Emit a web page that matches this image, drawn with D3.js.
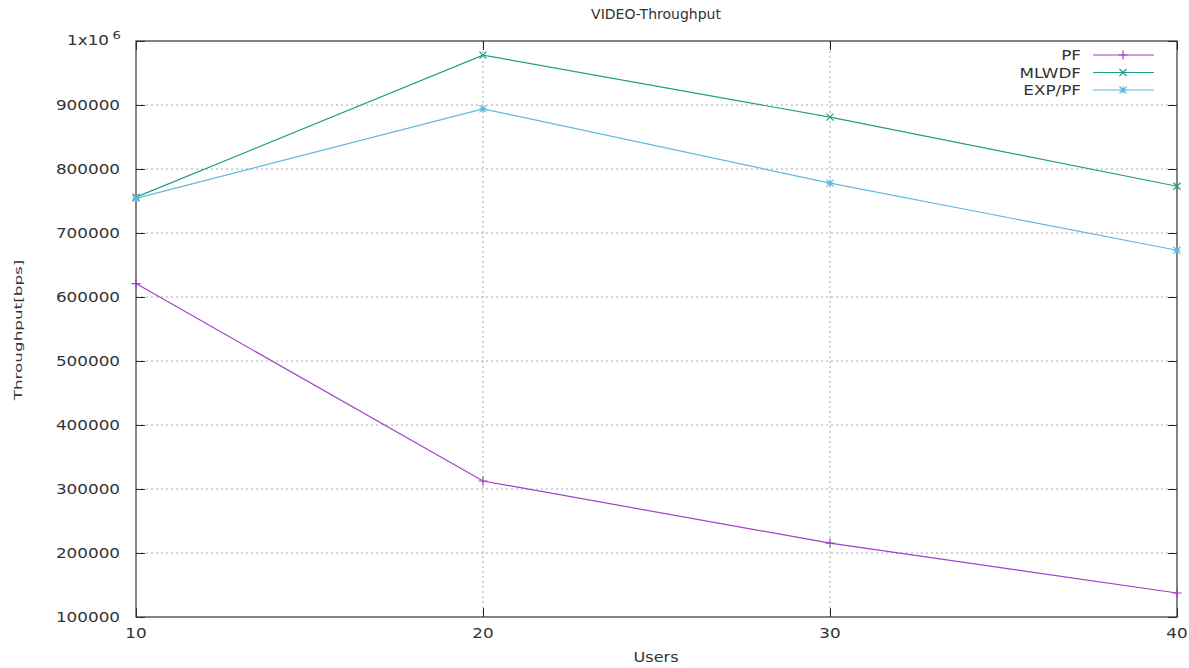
<!DOCTYPE html>
<html><head><meta charset="utf-8">
<script src="https://cdn.jsdelivr.net/npm/d3@7"></script>
<style>body{margin:0;background:#fff}svg text{font-family:"DejaVu Sans",sans-serif;fill:#333}</style>
</head><body>
<svg id="c" width="1189" height="668"></svg>
<script>
const users = [10, 20, 30, 40];
const pfValues = [621000, 312500, 215500, 137500];
const mlwdfValues = [756000, 978000, 881000, 773000];
const expPfValues = [754000, 894000, 778000, 673000];
const yTicks = [100000, 200000, 300000, 400000, 500000, 600000, 700000, 800000, 900000, 1000000];
const xTicks = [10, 20, 30, 40];
const seriesNames = ["PF", "MLWDF", "EXP/PF"];
const seriesColors = ["#a040c8", "#209e85", "#60b8e0"];
const seriesMarkers = ["plus", "cross", "star"];

const series = [pfValues, mlwdfValues, expPfValues].map((v, i) => ({
  name: seriesNames[i], color: seriesColors[i], marker: seriesMarkers[i],
  pts: users.map((u, j) => ({x: u, y: v[j]}))
}));

const svg = d3.select("#c");
const L = 136, R = 1177, T = 41, B = 617;
const SX = 1.2;
const x = d3.scaleLinear().domain([10, 40]).range([L, R]);
const y = d3.scaleLinear().domain([100000, 1000000]).range([B, T]);

// grid
const g = svg.append("g");
g.selectAll("line.gy").data(yTicks.slice(1, -1)).join("line")
  .attr("x1", L).attr("x2", R).attr("y1", d => y(d)).attr("y2", d => y(d))
  .attr("stroke", "#a8a8a8").attr("stroke-width", 1).attr("stroke-dasharray", "2,3");
g.selectAll("line.gx").data(xTicks.slice(1, -1)).join("line")
  .attr("y1", T).attr("y2", B).attr("x1", d => x(d)).attr("x2", d => x(d))
  .attr("stroke", "#a8a8a8").attr("stroke-width", 1).attr("stroke-dasharray", "2,3");

// axes with inward ticks (labels drawn separately)
const yAxisL = svg.append("g").attr("transform", `translate(${L},0)`)
  .call(d3.axisLeft(y).tickValues(yTicks).tickFormat("").tickSizeInner(-9).tickSizeOuter(0));
const yAxisR = svg.append("g").attr("transform", `translate(${R},0)`)
  .call(d3.axisRight(y).tickValues(yTicks).tickFormat("").tickSizeInner(-9).tickSizeOuter(0));
const xAxisB = svg.append("g").attr("transform", `translate(0,${B})`)
  .call(d3.axisBottom(x).tickValues(xTicks).tickFormat("").tickSizeInner(-9).tickSizeOuter(0));
const xAxisT = svg.append("g").attr("transform", `translate(0,${T})`)
  .call(d3.axisTop(x).tickValues(xTicks).tickFormat("").tickSizeInner(-9).tickSizeOuter(0));
[yAxisL, yAxisR, xAxisB, xAxisT].forEach(a => {
  a.select(".domain").remove();
  a.selectAll(".tick line").attr("stroke", "#222");
});

// tick labels (horizontally stretched like the reference)
const fmt = d3.format("d");
svg.selectAll("g.ylab").data(yTicks.slice(0, -1)).join("g")
  .attr("transform", d => `translate(120,${y(d)}) scale(${SX},1)`)
  .append("text").attr("text-anchor", "end").attr("dy", "0.36em").attr("font-size", 14).text(fmt);
svg.selectAll("g.xlab").data(xTicks).join("g")
  .attr("transform", d => `translate(${x(d)},${B + 16}) scale(${SX},1)`)
  .append("text").attr("text-anchor", "middle").attr("dy", "0.36em").attr("font-size", 14).text(fmt);

// 1x10^6 label
const supG = svg.append("g").attr("transform", `translate(121,${y(1000000) + 4}) scale(${SX},1)`);
const sup = supG.append("text").attr("text-anchor", "end").attr("font-size", 14);
sup.append("tspan").text("1x10");
sup.append("tspan").attr("dx", 3).attr("dy", -6).attr("font-size", 11).text("6");

// border
svg.append("rect").attr("x", L).attr("y", T).attr("width", R - L).attr("height", B - T)
  .attr("fill", "none").attr("stroke", "#333").attr("stroke-width", 1.2);

// markers
function marker(type, s) {
  const p = d3.path();
  if (type === "plus" || type === "star") { p.moveTo(-s, 0); p.lineTo(s, 0); p.moveTo(0, -s); p.lineTo(0, s); }
  if (type === "cross" || type === "star") { p.moveTo(-s, -s); p.lineTo(s, s); p.moveTo(-s, s); p.lineTo(s, -s); }
  return p.toString();
}

const line = d3.line().x(d => x(d.x)).y(d => y(d.y));
series.forEach(s => {
  svg.append("path").datum(s.pts).attr("d", line).attr("fill", "none")
    .attr("stroke", s.color).attr("stroke-width", 1.2);
  const ms = s.marker === "plus" ? 4.5 : 3.5;
  svg.selectAll(null).data(s.pts).join("path")
    .attr("transform", d => `translate(${x(d.x)},${y(d.y)})`)
    .attr("d", marker(s.marker, ms)).attr("stroke", s.color).attr("stroke-width", 1.2).attr("fill", "none");
});

// legend
series.forEach((s, i) => {
  const ly = 55 + i * 17.5;
  svg.append("g").attr("transform", `translate(1081,${ly}) scale(${SX},1)`)
    .append("text").attr("dy", "0.36em").attr("text-anchor", "end").attr("font-size", 14).text(s.name);
  svg.append("line").attr("x1", 1093).attr("x2", 1154).attr("y1", ly).attr("y2", ly)
    .attr("stroke", s.color).attr("stroke-width", 1.2);
  const ms = s.marker === "plus" ? 4.5 : 3.5;
  svg.append("path").attr("transform", `translate(1123,${ly})`).attr("d", marker(s.marker, ms))
    .attr("stroke", s.color).attr("stroke-width", 1.2).attr("fill", "none");
});

// titles
svg.append("text").attr("x", 656).attr("y", 19).attr("text-anchor", "middle").attr("font-size", 14).text("VIDEO-Throughput");
svg.append("g").attr("transform", `translate(656,662) scale(1.15,1)`)
  .append("text").attr("text-anchor", "middle").attr("font-size", 14).text("Users");
svg.append("text").attr("transform", "translate(22,330) rotate(-90) scale(1.2,0.8)").attr("text-anchor", "middle")
  .attr("font-size", 14).text("Throughput[bps]");
</script>
</body></html>
